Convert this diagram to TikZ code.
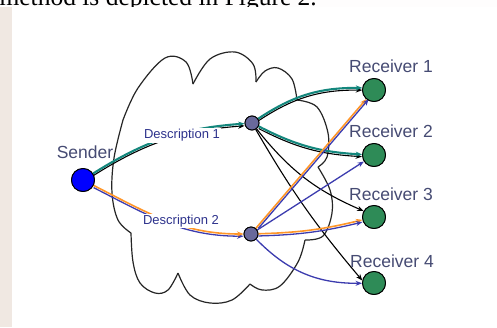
\documentclass[tikz,border=0pt]{standalone}
\usepackage{fontspec}
\setmainfont{Liberation Sans}
\newfontfamily\pageserif{Liberation Serif}
\usetikzlibrary{arrows.meta}
\definecolor{tealc}{RGB}{20,135,125}
\definecolor{orangec}{RGB}{255,150,40}
\definecolor{bluec}{RGB}{60,60,175}
\definecolor{relayc}{RGB}{105,105,155}
\definecolor{recvc}{RGB}{46,139,87}
\definecolor{labc}{RGB}{70,75,115}
\definecolor{descc}{RGB}{45,50,140}
\definecolor{pagebg}{RGB}{240,232,226}
\begin{document}
\begin{tikzpicture}[x=1pt,y=-1pt,
  arr/.style={-{Stealth[length=6.5pt,width=5pt]}},
  tealE/.style={arr, draw=tealc, line width=2.1pt},
  blackE/.style={arr, draw=black, line width=1.1pt},
  orangeE/.style={arr, draw=orangec, line width=1.6pt},
  blueE/.style={arr, draw=bluec, line width=1.3pt},
  lowered/.style={transform canvas={yshift=-2.2pt}},
  rightward/.style={transform canvas={xshift=2.5pt}},
  cloudline/.style={draw=black!85, line width=1.2pt},
  sendernode/.style={circle, draw=black, line width=0.9pt, fill=blue, minimum size=23pt, inner sep=0pt},
  relaynode/.style={circle, draw=black, line width=0.9pt, fill=relayc, minimum size=14pt, inner sep=0pt},
  recvnode/.style={circle, draw=black, line width=0.9pt, fill=recvc, minimum size=23pt, inner sep=0pt},
  lab/.style={text=labc, font=\fontsize{17.5}{17.5}\selectfont, inner sep=0pt},
  desc/.style={text=descc, fill=white, font=\fontsize{13}{13}\selectfont, inner sep=1pt}
]
\useasboundingbox (0,0) rectangle (497,327);
\fill[pagebg] (0,0) rectangle (497,327);
\fill[white!92!pagebg] (0,0) rectangle (497,6.5);
\fill[white] (12,6.5) rectangle (497,327);
\begin{scope}
  \clip (0,0) rectangle (497,6.5);
  \node[anchor=base east, inner sep=0pt, font=\pageserif\fontsize{25.5}{25.5}\selectfont] (toptext) at (317,5.5) {method is depicted in Figure 2.};
\end{scope}

% cloud
\draw[cloudline] plot[smooth, tension=0.6] coordinates {(123,120) (138,88) (165,58) (186,62) (193,84)};
\draw[cloudline] plot[smooth, tension=0.6] coordinates {(193,84) (210,59) (235,52) (253,64) (256,82)};
\draw[cloudline] plot[smooth, tension=0.6] coordinates {(256,82) (265,71) (278,68) (292,79) (297,100)};
\draw[cloudline] plot[smooth, tension=0.6] coordinates {(297,100) (317,107) (328,133) (327,157) (318,167)};
\draw[cloudline] plot[smooth, tension=0.6] coordinates {(318,167) (330,190) (332,213) (323,236) (305,240)};
\draw[cloudline] plot[smooth, tension=0.6] coordinates {(305,240) (298,262) (280,286) (262,290) (250,284)};
\draw[cloudline] plot[smooth, tension=0.6] coordinates {(250,284) (232,300) (210,303) (190,295) (178,273)};
\draw[cloudline] plot[smooth, tension=0.6] coordinates {(178,273) (168,290) (155,293) (140,283) (133,262) (131,233)};
\draw[cloudline] plot[smooth, tension=0.6] coordinates {(131,233) (118,220) (112,193) (114,158) (123,120)};

% nodes
\node[sendernode] (S) at (83,180) {};
\node[relaynode] (D1) at (252,123) {};
\node[relaynode] (D2) at (251,234) {};
\node[recvnode] (R1) at (374,90) {};
\node[recvnode] (R2) at (374,155) {};
\node[recvnode] (R3) at (374,217) {};
\node[recvnode] (R4) at (374,283) {};

% sender edges
\draw[blackE, lowered] (S) to[bend left=14] (D1);
\draw[tealE] (S) to[bend left=14] (D1);
\draw[blueE, lowered] (S) to[out=-27, in=180] (D2);
\draw[orangeE] (S) to[out=-27, in=180] (D2);

% D1 edges
\draw[blackE, lowered] (D1) to[bend left=17] (R1.170);
\draw[tealE] (D1) to[bend left=17] (R1.170);
\draw[blackE, lowered] (D1) to[bend right=12] (R2);
\draw[tealE] (D1) to[bend right=12] (R2);
\draw[blackE] (D1) to[bend right=14] (R3.150);
\draw[blackE] (D1) to[bend right=5] (R4.168);

% D2 edges
\draw[orangeE] (D2) -- (R1);
\draw[blueE, rightward] (D2) -- (R1);
\draw[blueE] (D2) -- (R2);
\draw[orangeE] (D2) to[bend right=6] (R3);
\draw[blueE, lowered] (D2) to[bend right=6] (R3);
\draw[blueE] (D2) to[bend right=23] (R4);

% redraw nodes on top
\node[sendernode] at (S) {};
\node[relaynode] at (D1) {};
\node[relaynode] at (D2) {};
\node[recvnode] at (R1) {};
\node[recvnode] at (R2) {};
\node[recvnode] at (R3) {};
\node[recvnode] at (R4) {};

% labels
\node[desc] (d1lab) at (182,135.5) {Description 1};
\node[desc] (d2lab) at (181,221) {Description 2};
\node[lab] (slab) at (85,152) {Sender};
\node[lab] (r1lab) at (391,66.5) {Receiver 1};
\node[lab] (r2lab) at (391,131) {Receiver 2};
\node[lab] (r3lab) at (391,194) {Receiver 3};
\node[lab] (r4lab) at (392,261) {Receiver 4};
\end{tikzpicture}
\end{document}
